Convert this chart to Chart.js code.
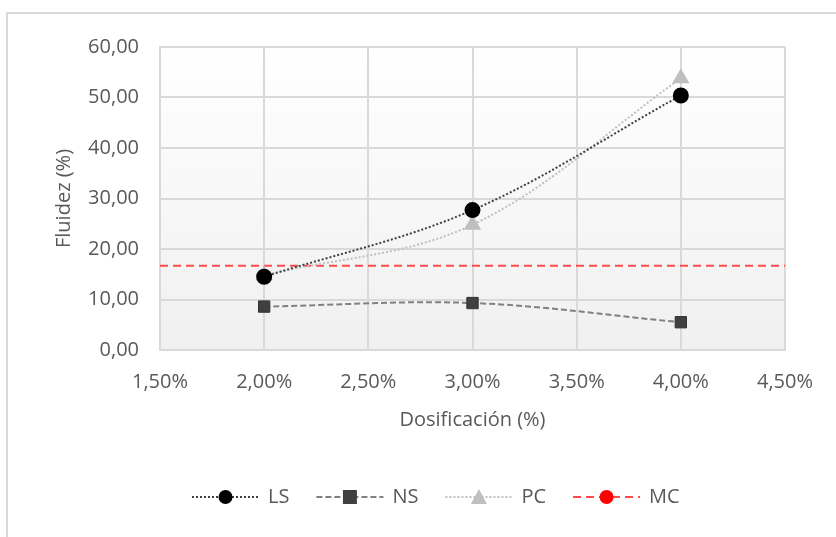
<!DOCTYPE html>
<html>
<head>
<meta charset="utf-8">
<script src="https://cdn.jsdelivr.net/npm/chart.js@4/dist/chart.umd.min.js"></script>
<style>
  html, body { margin: 0; padding: 0; background: #ffffff; }
  #wrap { position: relative; width: 836px; height: 537px; }
  canvas { display: block; }
</style>
</head>
<body>
<div id="wrap"><canvas id="c" width="836" height="537"></canvas></div>
<script>
// Dosificación (%) on the x axis
const dosages = [2.0, 3.0, 4.0];
// Fluidez (%) for each admixture
const valuesLS = [14.5, 27.7, 50.4];
const valuesNS = [8.6, 9.3, 5.5];
const valuesPC = [14.8, 24.8, 53.8];
// Reference (MC) fluidity, drawn across the full x range
const mcLevel = 16.7;
const mcRange = [1.5, 4.5];
const xTicks = { min: 1.5, max: 4.5, step: 0.5 };
const yTicks = { min: 0, max: 60, step: 10 };
const seriesNames = ['LS', 'NS', 'PC', 'MC'];

const FONT = '"Open Sans", "Liberation Sans", sans-serif';
const TEXT = '#595959';
const GRID = '#d9d9d9';

const pts = (ys) => dosages.map((x, i) => ({ x: x, y: ys[i] }));
const comma = (v, d) => v.toFixed(d).replace('.', ',');

const datasets = [
  {
    label: seriesNames[0], data: pts(valuesLS),
    borderColor: '#404040', borderWidth: 2, borderDash: [2, 2],
    pointStyle: 'circle', pointRadius: 7, pointBackgroundColor: '#000000', pointBorderColor: '#000000',
    tension: 0.35, legendMarker: 'circle', legendFill: '#000000'
  },
  {
    label: seriesNames[1], data: pts(valuesNS),
    borderColor: '#808080', borderWidth: 2, borderDash: [6, 3],
    pointStyle: 'rect', pointRadius: 8, pointBackgroundColor: '#404040', pointBorderColor: '#303030', pointBorderWidth: 1,
    tension: 0.35, legendMarker: 'rect', legendFill: '#404040'
  },
  {
    label: seriesNames[2], data: pts(valuesPC),
    borderColor: '#bfbfbf', borderWidth: 2, borderDash: [2, 2],
    pointStyle: 'triangle', pointRadius: 8, pointBackgroundColor: '#bfbfbf', pointBorderColor: '#bfbfbf',
    tension: 0.35, legendMarker: 'triangle', legendFill: '#bfbfbf'
  },
  {
    label: seriesNames[3], data: mcRange.map(x => ({ x: x, y: mcLevel })),
    borderColor: '#ff4b4b', borderWidth: 2, borderDash: [8, 5],
    pointRadius: 0, tension: 0, legendMarker: 'circle', legendFill: '#ff0000'
  }
];

// Soft white-to-grey fill behind the plot, plus the chart frame
const backdrop = {
  id: 'backdrop',
  beforeDraw(chart) {
    const { ctx, chartArea: a } = chart;
    ctx.save();
    const g = ctx.createLinearGradient(0, a.top, 0, a.bottom);
    g.addColorStop(0, '#ffffff');
    g.addColorStop(1, '#f0f0f0');
    ctx.fillStyle = g;
    ctx.fillRect(a.left, a.top, a.right - a.left, a.bottom - a.top);
    ctx.strokeStyle = GRID;
    ctx.lineWidth = 2;
    ctx.beginPath();
    ctx.moveTo(7, chart.height);
    ctx.lineTo(7, 13);
    ctx.lineTo(chart.width, 13);
    ctx.stroke();
    ctx.restore();
  }
};

// Legend entries drawn as line sample + marker + name
const lineLegend = {
  id: 'lineLegend',
  afterDraw(chart) {
    const { ctx } = chart;
    const y = 497;
    const lineLen = 67, gapText = 9, gapItem = 27;
    let x = 192;
    ctx.save();
    ctx.font = '20px ' + FONT;
    ctx.textBaseline = 'middle';
    chart.data.datasets.forEach(ds => {
      ctx.setLineDash(ds.borderDash);
      ctx.strokeStyle = ds.borderColor;
      ctx.lineWidth = ds.borderWidth;
      ctx.beginPath();
      ctx.moveTo(x, y);
      ctx.lineTo(x + lineLen, y);
      ctx.stroke();
      ctx.setLineDash([]);
      const cx = x + lineLen / 2;
      ctx.fillStyle = ds.legendFill;
      ctx.beginPath();
      if (ds.legendMarker === 'circle') {
        ctx.arc(cx, y, 7, 0, Math.PI * 2);
      } else if (ds.legendMarker === 'rect') {
        ctx.rect(cx - 7, y - 7, 14, 14);
      } else {
        ctx.moveTo(cx, y - 8);
        ctx.lineTo(cx + 8, y + 7);
        ctx.lineTo(cx - 8, y + 7);
        ctx.closePath();
      }
      ctx.fill();
      ctx.fillStyle = TEXT;
      const tx = x + lineLen + gapText;
      ctx.fillText(ds.label, tx, y);
      x = tx + ctx.measureText(ds.label).width + gapItem;
    });
    ctx.restore();
  }
};

new Chart(document.getElementById('c'), {
  type: 'line',
  data: { datasets: datasets },
  plugins: [backdrop, lineLegend],
  options: {
    responsive: false,
    animation: false,
    layout: { padding: { left: 48, top: 47, right: 51, bottom: 97 } },
    plugins: { legend: { display: false }, tooltip: { enabled: false } },
    scales: {
      x: {
        type: 'linear', min: xTicks.min, max: xTicks.max,
        afterFit(s) { s.height = 90; },
        ticks: {
          stepSize: xTicks.step, padding: 20, color: TEXT,
          font: { family: FONT, size: 20 },
          callback: v => comma(v, 2) + '%'
        },
        grid: { color: GRID, lineWidth: 2, drawTicks: false },
        border: { color: GRID, width: 2 },
        title: {
          display: true, text: 'Dosificación (%)', color: TEXT,
          font: { family: FONT, size: 20 }, padding: { top: 4, bottom: 8 }
        }
      },
      y: {
        min: yTicks.min, max: yTicks.max,
        afterFit(s) { s.width = 112; },
        ticks: {
          stepSize: yTicks.step, padding: 21, color: TEXT,
          font: { family: FONT, size: 20 },
          callback: v => comma(v, 2)
        },
        grid: { color: GRID, lineWidth: 2, drawTicks: false },
        border: { color: GRID, width: 2 },
        title: {
          display: true, text: 'Fluidez (%)', color: TEXT,
          font: { family: FONT, size: 20 }, padding: { top: 4, bottom: 4 }
        }
      }
    }
  }
});
</script>
</body>
</html>
